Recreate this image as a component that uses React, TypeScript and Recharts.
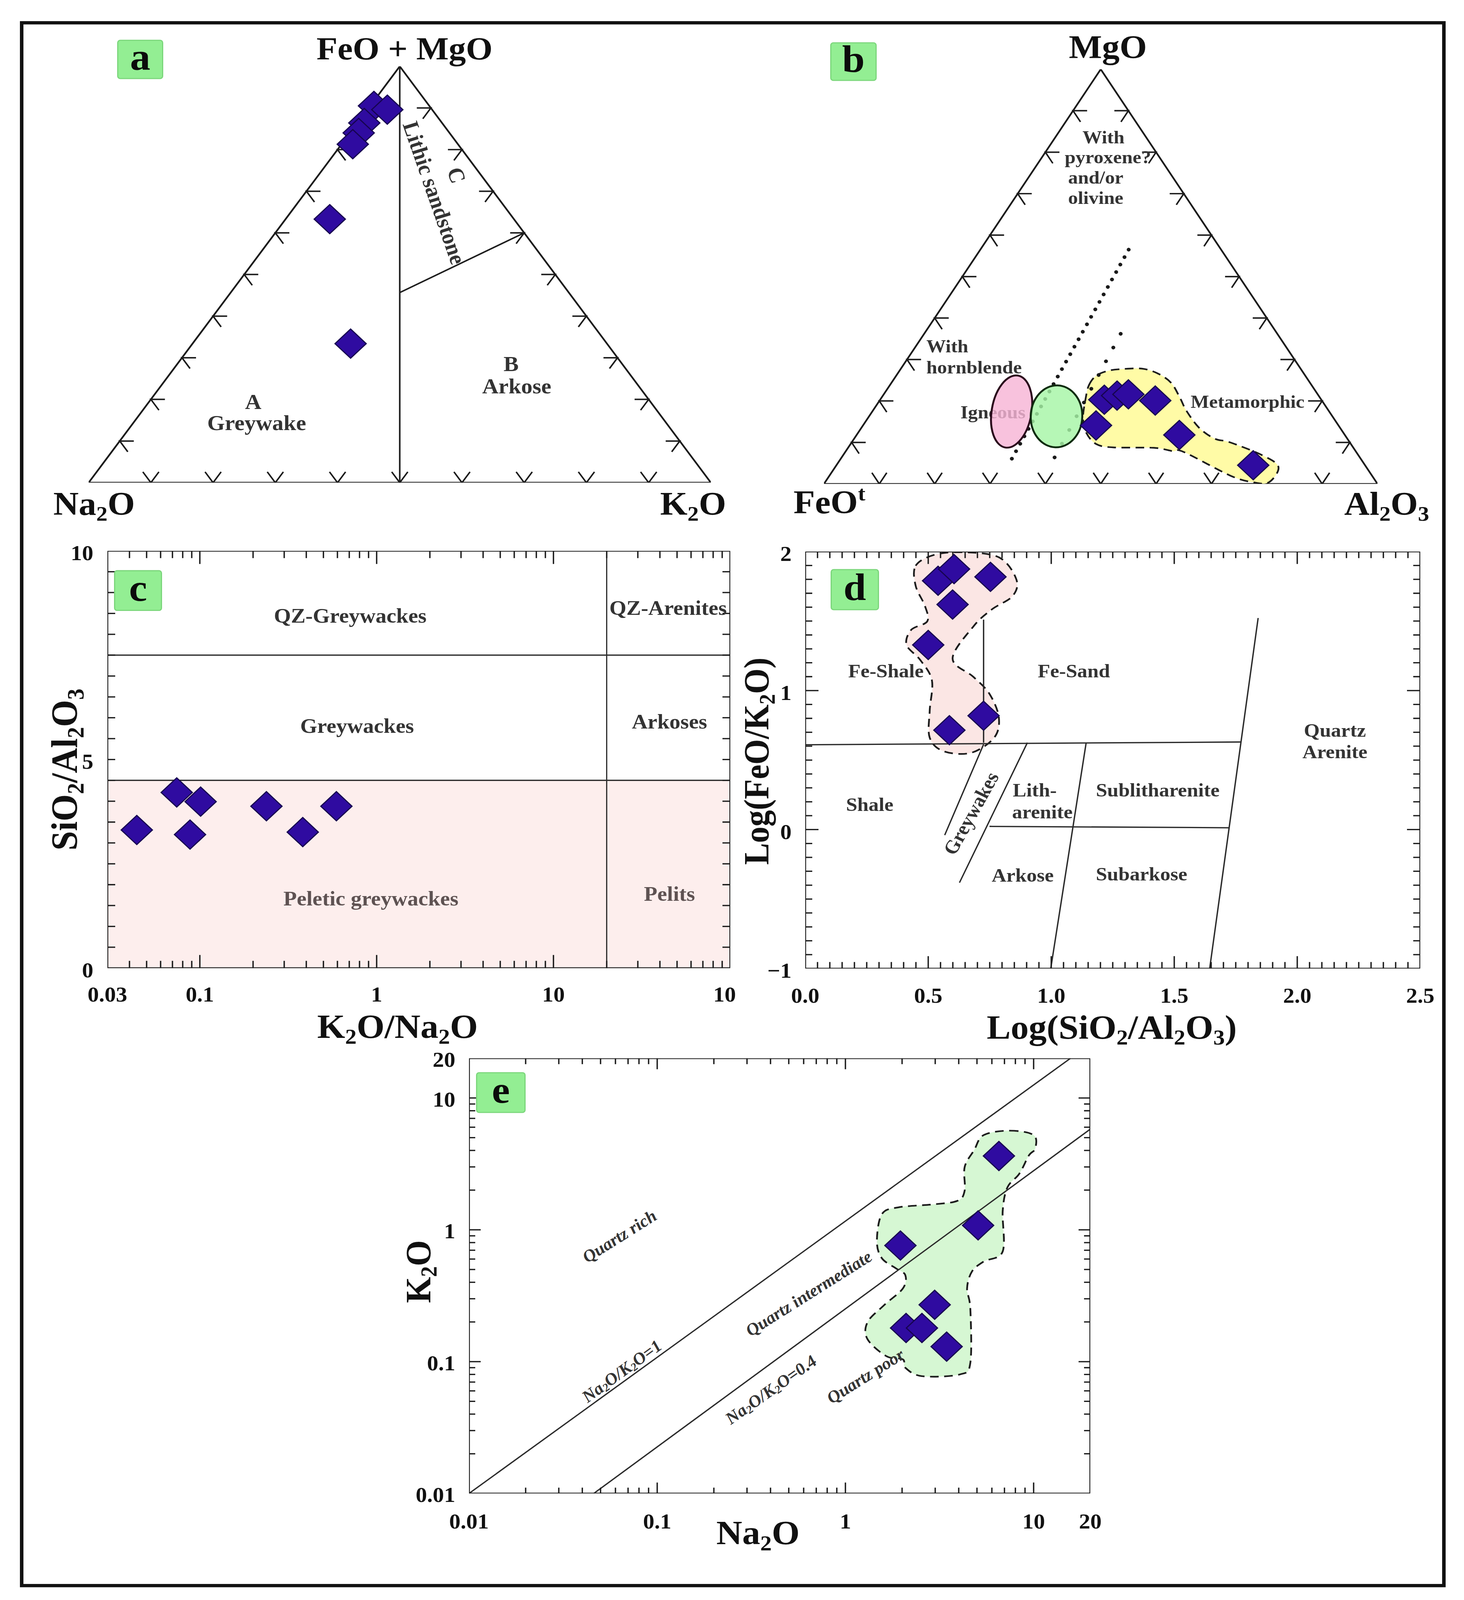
import React from "react";
import { ScatterChart, Scatter, XAxis, YAxis } from "recharts";

const SERIF = '"Liberation Serif", "Times New Roman", serif';
const INK = "#1c1c1c";
const ZONE = "#333333";
const MUTED = "#5e5252";
const PURPLE = "#2f0ba0";
const PURPLE_EDGE = "#16044f";
const PAGE_W = 3749;
const PAGE_H = 4389;

// ---------- panel a : (FeO+MgO) - Na2O - K2O ----------
const aFeOMgO = [90.5, 89.6, 86.4, 84.0, 81.3, 63.3, 33.4];
const aK2O = [0.6, 3.2, 1.1, 1.4, 1.8, 7.1, 25.4];
const aNa2O = [8.9, 7.2, 12.5, 14.6, 16.9, 29.6, 41.2];
// field boundary, [FeO+MgO, K2O]
const aBoundary = [
  [45.7, 27.2],
  [60, 40],
];

// ---------- panel b : MgO - FeOt - Al2O3 ----------
const bMgO = [20.3, 21.3, 21.6, 20.1, 14.1, 11.8, 4.5];
const bAl2O3 = [40.5, 42.3, 44.2, 49.8, 42.1, 58.3, 75.3];
const bFeOt = [39.2, 36.4, 34.2, 30.1, 43.8, 29.9, 20.2];
// dotted dividers, [MgO, Al2O3]
const bDividers = [
  [
    [56.5, 26.8],
    [4.9, 31.0],
  ],
  [
    [36.2, 35.5],
    [4.1, 38.7],
  ],
];
// metamorphic field outline, triangle plane coords
const bMetaOutline = [
  [0.479, 0.239], [0.492, 0.261], [0.514, 0.273], [0.539, 0.277], [0.574, 0.278],
  [0.602, 0.267], [0.627, 0.244], [0.643, 0.208], [0.655, 0.176], [0.678, 0.135],
  [0.706, 0.109], [0.734, 0.1], [0.792, 0.069], [0.821, 0.041], [0.804, 0.004],
  [0.775, 0.004], [0.734, 0.02], [0.65, 0.077], [0.63, 0.079], [0.596, 0.087],
  [0.523, 0.088], [0.492, 0.096], [0.474, 0.123], [0.468, 0.159], [0.473, 0.208],
];
const bIgneousPink = [0.339, 0.1745];
const bIgneousGreen = [0.4201, 0.1629];

// ---------- panel c : SiO2/Al2O3 vs K2O/Na2O ----------
const cK2ONa2O = [0.044, 0.074, 0.101, 0.088, 0.238, 0.382, 0.592];
const cSiO2Al2O3 = [3.31, 4.21, 3.99, 3.2, 3.88, 3.26, 3.88];
const cSplitY = [7.5, 4.5];
const cSplitX = 20;
const cXTicks = [0.03, 0.1, 1, 10, 100];
const cYTicks = [0, 5, 10];

// ---------- panel d : Log(FeO/K2O) vs Log(SiO2/Al2O3) ----------
const dLogSiAl = [0.54, 0.605, 0.753, 0.599, 0.5, 0.725, 0.586];
const dLogFeK = [1.79, 1.874, 1.818, 1.619, 1.328, 0.819, 0.715];
const dLines = [
  [[0, 0.61], [1.77, 0.63]],
  [[0.725, 1.51], [0.725, 0.625]],
  [[0.725, 0.613], [0.567, -0.04]],
  [[0.903, 0.625], [0.627, -0.382]],
  [[1.142, 0.625], [0.998, -1.0]],
  [[0.749, 0.023], [1.723, 0.013]],
  [[1.841, 1.522], [1.644, -1.0]],
];
const dOutline = [
  [0.449, 1.898], [0.524, 1.976], [0.637, 1.995], [0.787, 1.959], [0.858, 1.801],
  [0.843, 1.68], [0.758, 1.583], [0.684, 1.462], [0.599, 1.231], [0.684, 1.098],
  [0.749, 0.976], [0.787, 0.807], [0.768, 0.661], [0.674, 0.552], [0.562, 0.564],
  [0.506, 0.661], [0.506, 0.855], [0.515, 1.073], [0.468, 1.219], [0.412, 1.328],
  [0.431, 1.437], [0.496, 1.498], [0.487, 1.607], [0.449, 1.753],
];
const dXTicks = [0, 0.5, 1, 1.5, 2, 2.5];
const dYTicks = [-1, 0, 1, 2];

// ---------- panel e : K2O vs Na2O ----------
const eNa2O = [6.54, 5.07, 1.96, 2.98, 2.1, 2.55, 3.45];
const eK2O = [3.63, 1.08, 0.76, 0.27, 0.18, 0.18, 0.13];
const eLines = [
  [[0.01, 0.01], [15.7, 20]],
  [[0.046, 0.01], [20, 5.8]],
];
const eOutline = [
  [7.48, 5.65], [10.0, 5.23], [10.2, 4.13], [9.44, 3.67], [8.39, 2.66], [7.26, 2.1],
  [6.85, 1.39], [6.85, 0.685], [5.43, 0.575], [4.7, 0.482], [4.43, 0.359], [4.61, 0.252],
  [4.61, 0.098], [4.06, 0.08], [2.55, 0.0776], [2.08, 0.09], [2.02, 0.104], [1.65, 0.11],
  [1.31, 0.148], [1.31, 0.199], [1.6, 0.267], [2.02, 0.359], [2.08, 0.454], [1.85, 0.511],
  [1.56, 0.61], [1.47, 0.818], [1.56, 1.31], [1.91, 1.48], [2.95, 1.56], [3.94, 1.66],
  [4.3, 1.98], [4.3, 2.99], [4.83, 4.02], [5.43, 5.23],
];
const eTicks = [0.01, 0.1, 1, 10, 20];

// ---------- field names ----------
const aZones = [
  { x: 0.5557, y: 0.6963, text: "Lithic sandstone", rot: 72 },
  { x: 0.5914, y: 0.7384, text: "C", rot: 72 },
  { x: 0.679, y: 0.285, text: "B" },
  { x: 0.688, y: 0.232, text: "Arkose" },
  { x: 0.2645, y: 0.1946, text: "A" },
  { x: 0.2701, y: 0.1438, text: "Greywake" },
];
const bZones = [
  { x: 0.505, y: 0.837, text: "With" },
  { x: 0.513, y: 0.789, text: "pyroxene?" },
  { x: 0.491, y: 0.74, text: "and/or" },
  { x: 0.491, y: 0.691, text: "olivine" },
  { x: 0.185, y: 0.333, text: "With", anchor: "start" },
  { x: 0.185, y: 0.282, text: "hornblende", anchor: "start" },
  { x: 0.3053, y: 0.1732, text: "Igneous" },
  { x: 0.7653, y: 0.1992, text: "Metamorphic" },
];
const cZones = [
  { x: 0.709, y: 8.44, text: "QZ-Greywackes" },
  { x: 44.5, y: 8.63, text: "QZ-Arenites" },
  { x: 0.775, y: 5.8, text: "Greywackes" },
  { x: 45.3, y: 5.9, text: "Arkoses" },
  { x: 0.928, y: 1.66, text: "Peletic greywackes", muted: true },
  { x: 45.3, y: 1.78, text: "Pelits", muted: true },
];
const dZones = [
  { x: 0.328, y: 1.142, text: "Fe-Shale" },
  { x: 1.092, y: 1.142, text: "Fe-Sand" },
  { x: 2.153, y: 0.715, text: "Quartz" },
  { x: 2.153, y: 0.56, text: "Arenite" },
  { x: 0.262, y: 0.181, text: "Shale" },
  { x: 0.933, y: 0.285, text: "Lith-" },
  { x: 0.964, y: 0.128, text: "arenite" },
  { x: 1.433, y: 0.285, text: "Sublitharenite" },
  { x: 0.884, y: -0.328, text: "Arkose" },
  { x: 1.367, y: -0.321, text: "Subarkose" },
  { x: 0.674, y: 0.116, text: "Greywakes", rot: -62.5 },
];
const eZones = [
  { x: 0.063, y: 0.893, text: "Quartz rich", rot: -34 },
  { x: 0.638, y: 0.329, text: "Quartz intermediate", rot: -34 },
  { x: 0.0648, y: 0.0847, text: "Na_2O/K_2O=1", rot: -38 },
  { x: 0.402, y: 0.0613, text: "Na_2O/K_2O=0.4", rot: -37 },
  { x: 1.278, y: 0.0776, text: "Quartz poor", rot: -34 },
];

// ---------- helpers ----------
type Pt = { x: number; y: number };
const tern = (top: number, right: number): Pt => ({ x: right / 100 + top / 200, y: top / 100 });
const pairs = (a: number[][]): Pt[] => a.map(([x, y]) => ({ x, y }));
const zip = (xs: number[], ys: number[]): Pt[] => xs.map((x, i) => ({ x, y: ys[i] }));

function pathOf(pts: Pt[], closed: boolean, smooth: boolean) {
  if (!pts || !pts.length) return "";
  if (!smooth) return pts.map((p, i) => `${i ? "L" : "M"}${p.x},${p.y}`).join(" ") + (closed ? " Z" : "");
  const n = pts.length;
  const at = (i: number) => pts[(i + n) % n];
  let d = `M${pts[0].x},${pts[0].y}`;
  for (let i = 0; i < n; i++) {
    const p0 = at(i - 1), p1 = at(i), p2 = at(i + 1), p3 = at(i + 2);
    d += ` C${p1.x + (p2.x - p0.x) / 6},${p1.y + (p2.y - p0.y) / 6} ${p2.x - (p3.x - p1.x) / 6},${p2.y - (p3.y - p1.y) / 6} ${p2.x},${p2.y}`;
  }
  return d + " Z";
}

const noMark = () => <g />;

type Look = { stroke?: string; fill?: string; width?: number; dash?: string; closed?: boolean; smooth?: boolean; cap?: "round" | "butt"; opacity?: number };
function poly(key: string, data: Pt[], o: Look) {
  return (
    <Scatter
      key={key}
      data={data}
      isAnimationActive={false}
      legendType="none"
      lineType="joint"
      shape={noMark}
      line={(p: any) => (
        <path
          d={pathOf(p.points, !!o.closed, !!o.smooth)}
          fill={o.fill ?? "none"}
          fillOpacity={o.opacity ?? 1}
          stroke={o.stroke ?? "none"}
          strokeWidth={o.width ?? 4}
          strokeDasharray={o.dash}
          strokeLinejoin="round"
          strokeLinecap={o.cap ?? "butt"}
        />
      )}
    />
  );
}

const R = 40;
const diamond = (p: any) => (
  <polygon
    points={`${p.cx},${p.cy - R} ${p.cx + R},${p.cy} ${p.cx},${p.cy + R} ${p.cx - R},${p.cy}`}
    fill={PURPLE}
    stroke={PURPLE_EDGE}
    strokeWidth={3}
  />
);
const points = (key: string, data: Pt[]) => (
  <Scatter key={key} data={data} isAnimationActive={false} legendType="none" shape={diamond} />
);

function svgRich(s: string, size: number) {
  const parts = s.split(/(_\d)/).filter(Boolean);
  const shift = size * 0.22;
  let down = false;
  return parts.map((part, i) => {
    if (part.startsWith("_")) {
      const el = (
        <tspan key={i} fontSize={size * 0.65} dy={down ? 0 : shift}>
          {part.slice(1)}
        </tspan>
      );
      down = true;
      return el;
    }
    const el = (
      <tspan key={i} dy={down ? -shift : 0}>
        {part}
      </tspan>
    );
    down = false;
    return el;
  });
}

const labelShape = (size: number, color: string, italic = false) => (p: any) => {
  const d = p.payload;
  return (
    <text
      x={p.cx}
      y={p.cy}
      textAnchor={d.anchor ?? "middle"}
      dominantBaseline="central"
      fontFamily={SERIF}
      fontWeight={700}
      fontStyle={italic ? "italic" : "normal"}
      fontSize={size}
      fill={d.muted ? MUTED : color}
      transform={d.rot ? `rotate(${d.rot} ${p.cx} ${p.cy})` : undefined}
    >
      {svgRich(d.text, size)}
    </text>
  );
};
const labels = (key: string, data: any[], size: number, color: string, italic = false) => (
  <Scatter key={key} data={data} isAnimationActive={false} legendType="none" shape={labelShape(size, color, italic)} />
);

// axis tick marks drawn inward from the frame
const tickMark = (dx: number, dy: number) => (p: any) => (
  <line
    x1={p.cx}
    y1={p.cy}
    x2={p.cx + dx * p.payload.l}
    y2={p.cy + dy * p.payload.l}
    stroke={INK}
    strokeWidth={3.5}
  />
);
function frameTicks(key: string, xs: { v: number; l: number }[], ys: { v: number; l: number }[], x0: number, x1: number, y0: number, y1: number) {
  return [
    <Scatter key={key + "b"} data={xs.map((t) => ({ x: t.v, y: y0, l: t.l }))} isAnimationActive={false} legendType="none" shape={tickMark(0, -1)} />,
    <Scatter key={key + "t"} data={xs.map((t) => ({ x: t.v, y: y1, l: t.l }))} isAnimationActive={false} legendType="none" shape={tickMark(0, 1)} />,
    <Scatter key={key + "l"} data={ys.map((t) => ({ x: x0, y: t.v, l: t.l }))} isAnimationActive={false} legendType="none" shape={tickMark(1, 0)} />,
    <Scatter key={key + "r"} data={ys.map((t) => ({ x: x1, y: t.v, l: t.l }))} isAnimationActive={false} legendType="none" shape={tickMark(-1, 0)} />,
  ];
}
function logMarks(lo: number, hi: number, minor: number, major: number) {
  const out: { v: number; l: number }[] = [];
  for (let dec = Math.pow(10, Math.floor(Math.log10(lo))); dec < hi; dec *= 10) {
    for (let m = 1; m < 10; m++) {
      const v = +(m * dec).toPrecision(3);
      if (v > lo * 1.0001 && v < hi * 0.9999) out.push({ v, l: m === 1 ? major : minor });
    }
  }
  return out;
}
function linMarks(lo: number, hi: number, step: number, every: number, minor: number, major: number) {
  const out: { v: number; l: number }[] = [];
  const n = Math.round((hi - lo) / step);
  for (let i = 1; i < n; i++) out.push({ v: +(lo + i * step).toFixed(4), l: i % every === 0 ? major : minor });
  return out;
}

// ternary chevron ticks
const chevron = (a: number[], b: number[]) => (p: any) => {
  const L = 36;
  return (
    <path
      d={`M${p.cx + a[0] * L},${p.cy + a[1] * L} L${p.cx},${p.cy} L${p.cx + b[0] * L},${p.cy + b[1] * L}`}
      fill="none"
      stroke={INK}
      strokeWidth={4}
    />
  );
};
function triFrame(key: string, w: number, h: number) {
  const len = Math.hypot(w / 2, h);
  const ux = w / 2 / len, uy = h / len;
  const steps = [1, 2, 3, 4, 5, 6, 7, 8, 9].map((i) => i / 10);
  const corners = [tern(0, 0), tern(0, 100), tern(100, 0)];
  return [
    poly(key + "tri", corners, { stroke: INK, width: 4.5, closed: true }),
    <Scatter key={key + "cb"} data={steps.map((t) => ({ x: t, y: 0 }))} isAnimationActive={false} legendType="none" shape={chevron([ux, -uy], [-ux, -uy])} />,
    <Scatter key={key + "cl"} data={steps.map((t) => ({ x: t / 2, y: t }))} isAnimationActive={false} legendType="none" shape={chevron([1, 0], [ux, uy])} />,
    <Scatter key={key + "cr"} data={steps.map((t) => ({ x: 1 - t / 2, y: t }))} isAnimationActive={false} legendType="none" shape={chevron([-1, 0], [-ux, uy])} />,
  ];
}

const ellipse = (rx: number, ry: number, rot: number, fill: string, stroke: string) => (p: any) => (
  <ellipse
    cx={p.cx}
    cy={p.cy}
    rx={rx}
    ry={ry}
    transform={`rotate(${rot} ${p.cx} ${p.cy})`}
    fill={fill}
    fillOpacity={0.82}
    stroke={stroke}
    strokeWidth={5}
  />
);

// ---------- html text ----------
function Rich({ s }: { s: string }) {
  const parts = s.split(/(_\d|\^\w)/).filter(Boolean);
  return (
    <>
      {parts.map((part, i) =>
        part.startsWith("_") ? (
          <span key={i} style={{ fontSize: "0.64em", verticalAlign: "-0.28em", lineHeight: 0 }}>
            {part.slice(1)}
          </span>
        ) : part.startsWith("^") ? (
          <span key={i} style={{ fontSize: "0.64em", verticalAlign: "0.62em", lineHeight: 0 }}>
            {part.slice(1)}
          </span>
        ) : (
          <span key={i}>{part}</span>
        )
      )}
    </>
  );
}
function Title({ x, y, size = 90, rot = 0, s }: { x: number; y: number; size?: number; rot?: number; s: string }) {
  return (
    <div
      style={{
        position: "absolute",
        left: x,
        top: y,
        transform: `translate(-50%, -50%) rotate(${rot}deg)`,
        fontFamily: SERIF,
        fontWeight: 700,
        fontSize: size,
        lineHeight: 1,
        whiteSpace: "nowrap",
        color: "#111",
      }}
    >
      <Rich s={s} />
    </div>
  );
}
function Badge({ x, y, w, h, s }: { x: number; y: number; w: number; h: number; s: string }) {
  return (
    <div
      style={{
        position: "absolute",
        left: x,
        top: y,
        width: w,
        height: h,
        boxSizing: "border-box",
        background: "#93ee93",
        border: "3px solid #7bd67b",
        borderRadius: 8,
        display: "flex",
        alignItems: "center",
        justifyContent: "center",
        fontFamily: SERIF,
        fontWeight: 700,
        fontSize: 104,
        lineHeight: 1,
        color: "#0b0b0b",
        paddingBottom: 14,
      }}
    >
      {s}
    </div>
  );
}

const tickText = (dx: number, dy: number, anchor: "middle" | "end", fmt: (v: number) => string) => (p: any) => (
  <text
    x={p.x + dx}
    y={p.y + dy}
    textAnchor={anchor}
    dominantBaseline="central"
    fontFamily={SERIF}
    fontWeight={700}
    fontSize={58}
    fill="#111"
  >
    {fmt(p.payload.value)}
  </text>
);

const Box = ({ left, top, children }: { left: number; top: number; children: React.ReactNode }) => (
  <div style={{ position: "absolute", left, top }}>{children}</div>
);

// ---------- panels ----------
function PanelA() {
  const W = 1593.4, H = 1142, M = 60;
  const pts = aFeOMgO.map((t, i) => tern(t, aK2O[i]));
  return (
    <Box left={226.6 - M} top={182.2 - M}>
      <ScatterChart width={W + 2 * M} height={H + 2 * M} margin={{ top: M, right: M, bottom: M, left: M }}>
        <XAxis type="number" dataKey="x" domain={[0, 1]} hide allowDataOverflow />
        <YAxis type="number" dataKey="y" domain={[0, 1]} hide allowDataOverflow />
        {triFrame("a", W, H)}
        {poly("a-axis", [tern(100, 0), tern(0, 50)], { stroke: INK, width: 4 })}
        {poly("a-bound", aBoundary.map(([t, k]) => tern(t, k)), { stroke: INK, width: 4 })}
        {labels("a-zones", aZones, 58, ZONE)}
        {points("a-pts", pts)}
      </ScatterChart>
    </Box>
  );
}

function PanelB() {
  const W = 1417.5, H = 1137.4, M = 60;
  const pts = bMgO.map((t, i) => tern(t, bAl2O3[i]));
  return (
    <Box left={2110 - M} top={189.6 - M}>
      <ScatterChart width={W + 2 * M} height={H + 2 * M} margin={{ top: M, right: M, bottom: M, left: M }}>
        <XAxis type="number" dataKey="x" domain={[0, 1]} hide allowDataOverflow />
        <YAxis type="number" dataKey="y" domain={[0, 1]} hide allowDataOverflow />
        {triFrame("b", W, H)}
        {poly("b-meta", pairs(bMetaOutline), { fill: "#fffba6", stroke: INK, width: 4.5, dash: "22 14", closed: true, smooth: true })}
        {bDividers.map((seg, i) =>
          poly("b-div" + i, seg.map(([t, a]) => tern(t, a)), { stroke: "#1a1a1a", width: 10, dash: i === 0 ? "0.1 23" : "0.1 42", cap: "round" })
        )}
        {labels("b-zones", bZones, 50, ZONE)}
        <Scatter key="b-pink" data={[{ x: bIgneousPink[0], y: bIgneousPink[1] }]} isAnimationActive={false} legendType="none" shape={ellipse(51, 100, 9, "#f7b5d6", "#2a0a1c")} />
        <Scatter key="b-green" data={[{ x: bIgneousGreen[0], y: bIgneousGreen[1] }]} isAnimationActive={false} legendType="none" shape={ellipse(66, 85, 2, "#a6f5a6", "#0d2b0d")} />
        {points("b-pts", pts)}
      </ScatterChart>
    </Box>
  );
}

function PanelC() {
  const W = 1595.1, H = 1144.7;
  const yW = 120, xH = 120, T = 40, Rm = 15;
  const fmt = (v: number) => String(v);
  return (
    <Box left={274.6 - yW} top={1510.7 - T}>
      <ScatterChart width={yW + W + Rm} height={T + H + xH} margin={{ top: T, right: Rm, bottom: 0, left: 0 }}>
        <XAxis type="number" dataKey="x" scale="log" domain={[0.03, 100]} allowDataOverflow ticks={cXTicks} interval={0} height={xH} axisLine={false} tickLine={false} tickSize={0} tickMargin={0} tick={tickText(0, 72, "middle", fmt)} />
        <YAxis type="number" dataKey="y" domain={[0, 10]} allowDataOverflow ticks={cYTicks} interval={0} width={yW} axisLine={false} tickLine={false} tickSize={0} tickMargin={0} tick={tickText(-36, 6, "end", fmt)} />
        {poly("c-pink", pairs([[0.03, 0], [100, 0], [100, cSplitY[1]], [0.03, cSplitY[1]]]), { fill: "#fdeeed", closed: true })}
        {cSplitY.map((y, i) => poly("c-h" + i, pairs([[0.03, y], [100, y]]), { stroke: "#2a2a2a", width: 3.5 }))}
        {poly("c-v", pairs([[cSplitX, 0], [cSplitX, 10]]), { stroke: "#2a2a2a", width: 3 })}
        {frameTicks("c", logMarks(0.03, 100, 20, 36), linMarks(0, 10, 0.5, 100, 20, 20), 0.03, 100, 0, 10)}
        {poly("c-frame", pairs([[0.03, 0], [100, 0], [100, 10], [0.03, 10]]), { stroke: INK, width: 4.5, closed: true })}
        {labels("c-zones", cZones, 56, ZONE)}
        {points("c-pts", zip(cK2ONa2O, cSiO2Al2O3))}
      </ScatterChart>
    </Box>
  );
}

function PanelD() {
  const W = 1575, H = 1143.9;
  const yW = 110, xH = 120, T = 40, Rm = 55;
  return (
    <Box left={2062.4 - yW} top={1512.9 - T}>
      <ScatterChart width={yW + W + Rm} height={T + H + xH} margin={{ top: T, right: Rm, bottom: 0, left: 0 }}>
        <XAxis type="number" dataKey="x" domain={[0, 2.5]} allowDataOverflow ticks={dXTicks} interval={0} height={xH} axisLine={false} tickLine={false} tickSize={0} tickMargin={0} tick={tickText(0, 74, "middle", (v) => v.toFixed(1))} />
        <YAxis type="number" dataKey="y" domain={[-1, 2]} allowDataOverflow ticks={dYTicks} interval={0} width={yW} axisLine={false} tickLine={false} tickSize={0} tickMargin={0} tick={tickText(-35, 6, "end", (v) => (v < 0 ? "\u2212" + Math.abs(v) : String(v)))} />
        {poly("d-blob", pairs(dOutline), { fill: "#fbe6e4", stroke: INK, width: 4.5, dash: "22 14", closed: true, smooth: true })}
        {dLines.map((seg, i) => poly("d-l" + i, pairs(seg), { stroke: "#2a2a2a", width: 3.5 }))}
        {frameTicks("d", linMarks(0, 2.5, 0.05, 10, 18, 34), linMarks(-1, 2, 0.1, 10, 18, 34), 0, 2.5, -1, 2)}
        {poly("d-frame", pairs([[0, -1], [2.5, -1], [2.5, 2], [0, 2]]), { stroke: INK, width: 4.5, closed: true })}
        {labels("d-zones", dZones, 52, ZONE)}
        {points("d-pts", zip(dLogSiAl, dLogFeK))}
      </ScatterChart>
    </Box>
  );
}

function PanelE() {
  const W = 1591, H = 1193.8;
  const yW = 180, xH = 140, T = 40, Rm = 60;
  const fmt = (v: number) => String(v);
  return (
    <Box left={1200.8 - yW} top={2902.7 - T}>
      <ScatterChart width={yW + W + Rm} height={T + H + xH} margin={{ top: T, right: Rm, bottom: 0, left: 0 }}>
        <XAxis type="number" dataKey="x" scale="log" domain={[0.01, 20]} allowDataOverflow ticks={eTicks} interval={0} height={xH} axisLine={false} tickLine={false} tickSize={0} tickMargin={0} tick={tickText(0, 76, "middle", fmt)} />
        <YAxis type="number" dataKey="y" scale="log" domain={[0.01, 20]} allowDataOverflow ticks={eTicks} interval={0} width={yW} axisLine={false} tickLine={false} tickSize={0} tickMargin={0} tick={tickText(-35, 4, "end", fmt)} />
        {poly("e-blob", pairs(eOutline), { fill: "#d6f7d3", stroke: INK, width: 4.5, dash: "22 14", closed: true, smooth: true })}
        {eLines.map((seg, i) => poly("e-l" + i, pairs(seg), { stroke: "#2a2a2a", width: 3.5 }))}
        {frameTicks("e", logMarks(0.01, 20, 16, 30), logMarks(0.01, 20, 16, 30), 0.01, 20, 0.01, 20)}
        {poly("e-frame", pairs([[0.01, 0.01], [20, 0.01], [20, 20], [0.01, 20]]), { stroke: INK, width: 4.5, closed: true })}
        {labels("e-zones", eZones, 46, ZONE, true)}
        {points("e-pts", zip(eNa2O, eK2O))}
      </ScatterChart>
    </Box>
  );
}

export default function App() {
  // the visible window can be shorter than the figure; squeeze vertically so nothing is cut
  const vh = typeof window !== "undefined" ? window.innerHeight : PAGE_H;
  const k = Math.min(1, vh / PAGE_H);
  return (
    <div style={{ position: "relative", margin: -8, width: PAGE_W, height: PAGE_H * k, overflow: "hidden", background: "#fff" }}>
      <div
        style={{
          position: "absolute",
          left: 0,
          top: 0,
          width: PAGE_W,
          height: PAGE_H,
          background: "#fff",
          transform: `scale(1, ${k})`,
          transformOrigin: "0 0",
        }}
      >
        <div style={{ position: "absolute", left: 51, top: 58, width: 3651, height: 4296, border: "9px solid #111", boxSizing: "border-box" }} />
        <PanelA />
        <PanelB />
        <PanelC />
        <PanelD />
        <PanelE />

        <Title x={1036} y={134} size={88} s="FeO + MgO" />
        <Title x={241} y={1382} s="Na_2O" />
        <Title x={1775} y={1382} s="K_2O" />
        <Title x={2837} y={130} s="MgO" />
        <Title x={2124} y={1378} s="FeO^t" />
        <Title x={3551} y={1382} s="Al_2O_3" />

        <Title x={1018} y={2816} size={92} s="K_2O/Na_2O" />
        <Title x={165} y={2111} size={96} rot={-90} s="SiO_2/Al_2O_3" />
        <Title x={2847} y={2818} size={92} s="Log(SiO_2/Al_2O_3)" />
        <Title x={1938} y={2088} size={90} rot={-90} s="Log(FeO/K_2O)" />
        <Title x={1941} y={4205} size={92} s="Na_2O" />
        <Title x={1071} y={3488} size={92} rot={-90} s="K_2O" />

        <Badge x={300} y={109} w={118} h={108} s="a" />
        <Badge x={2126} y={116} w={119} h={106} s="b" />
        <Badge x={292} y={1564} w={123} h={112} s="c" />
        <Badge x={2127} y={1561} w={124} h={113} s="d" />
        <Badge x={1219} y={2941} w={127} h={112} s="e" />
      </div>
    </div>
  );
}
